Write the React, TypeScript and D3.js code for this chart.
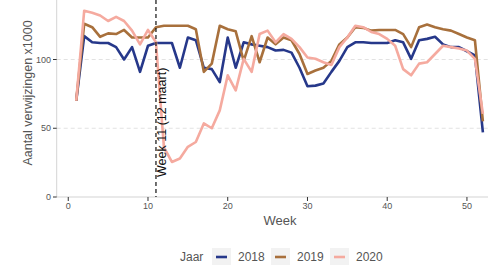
import React from 'react';
import * as d3 from 'd3';

const weeks = d3.range(1, 53);
const years = ['2018', '2019', '2020'];
const colors = ['#26388a', '#a8703c', '#f5aa9f'];

const y2018 = [70, 117, 112.5, 112, 112, 109, 100, 109, 91, 110, 112, 112, 112, 94, 116, 114, 94, 93, 83.5, 116,
  94, 112.5, 111, 110, 109, 106.5, 107, 105, 94, 80.5, 81, 82.5, 91, 99, 109, 112.5, 112.5, 112, 112, 112,
  114, 112.5, 100.5, 114, 115, 116.5, 111, 109, 109, 106, 103, 47];
const y2019 = [70, 126, 123.5, 116.5, 119, 118.5, 121.5, 116, 116, 116, 123.5, 124.5, 124.5, 124.5, 124.5, 122, 91, 97, 124.5, 122,
  120.5, 99, 117, 98, 116, 111, 116, 114, 104, 89.5, 92, 94, 99, 111, 116, 123.5, 123, 121, 121.5, 121.5,
  121.5, 118.5, 109, 123.5, 125.5, 123.5, 122, 121, 118.5, 116, 114, 55];
const y2020 = [70, 135.5, 134, 132, 128, 131, 128, 121, 111, 121.5, 112.5, 36, 25.5, 28, 36.5, 40, 53.5, 50, 63, 88.5,
  77.5, 100.5, 91, 118.5, 121, 112.5, 118.5, 115, 109, 101.5, 100.5, 98, 96, 109, 116, 124.5, 123.5, 120, 118.5, 115,
  110, 93, 88.5, 97, 98, 104, 110, 109, 108, 106.5, 100.5, 60.5];
const series = [y2018, y2019, y2020];

const xTicks = [0, 10, 20, 30, 40, 50];
const yTicks = [0, 50, 100];
const markerWeek = 11;
const markerLabel = 'Week 11 (12 maart)';

export default function App() {
  const x = d3.scaleLinear().domain([-1.6, 55.6]).range([55.5, 511.6]);
  const y = d3.scaleLinear().domain([0, 100]).range([197, 59.5]);
  const line = d3.line<number>().x((_, i) => x(weeks[i])).y((v) => y(v));
  const font = '"Liberation Sans", Arial, sans-serif';

  const legendItems = [
    { key: 212, label: 238 },
    { key: 271, label: 297 },
    { key: 330, label: 356 },
  ];

  return (
    <svg width={488} height={265} style={{ position: 'absolute', left: 0, top: 0, background: '#fff' }} fontFamily={font}>
      {/* gridlines */}
      {yTicks.filter((t) => t > 0).map((t) => (
        <line key={t} x1={56.7} x2={488} y1={y(t)} y2={y(t)} stroke="#d6d6d6" strokeWidth={0.7} strokeDasharray="4,3" />
      ))}
      {/* axis lines */}
      <line x1={56.7} x2={56.7} y1={0} y2={197} stroke="#c8c8c8" strokeWidth={0.8} />
      <line x1={56.7} x2={488} y1={197} y2={197} stroke="#c8c8c8" strokeWidth={0.8} />
      {yTicks.map((t) => (
        <g key={t}>
          <line x1={53} x2={56.7} y1={y(t)} y2={y(t)} stroke="#333" strokeWidth={1} />
          <text x={51} y={y(t)} dy="0.35em" textAnchor="end" fontSize={9} fill="#555">{t}</text>
        </g>
      ))}
      {xTicks.map((t) => (
        <g key={t}>
          <line x1={x(t)} x2={x(t)} y1={197} y2={201} stroke="#333" strokeWidth={1} />
          <text x={x(t)} y={206} dy="0.35em" textAnchor="middle" fontSize={9} fill="#555">{t}</text>
        </g>
      ))}
      {/* series */}
      {series.map((s, i) => (
        <path key={years[i]} d={line(s) ?? ''} fill="none" stroke={colors[i]} strokeWidth={2.6} strokeLinejoin="round" />
      ))}
      {/* week 11 marker */}
      <line x1={x(markerWeek)} x2={x(markerWeek)} y1={0} y2={197} stroke="#111" strokeWidth={1.2} strokeDasharray="4,3" />
      <text transform={`translate(166,177) rotate(-90)`} fontSize={12.5} fill="#111">{markerLabel}</text>
      {/* axis titles */}
      <text transform="translate(32,93) rotate(-90)" textAnchor="middle" fontSize={12.5} fill="#555">Aantal verwijzingen x1000</text>
      <text x={280} y={224.5} textAnchor="middle" fontSize={13} fill="#555">Week</text>
      {/* legend */}
      <text x={180} y={261} fontSize={12} fill="#555">Jaar</text>
      {legendItems.map((it, i) => (
        <g key={years[i]}>
          <rect x={it.key} y={248} width={19} height={18} fill="#f2f2f2" />
          <line x1={it.key + 4} x2={it.key + 15} y1={257} y2={257} stroke={colors[i]} strokeWidth={2.6} />
          <text x={it.label} y={261} fontSize={12} fill="#555">{years[i]}</text>
        </g>
      ))}
    </svg>
  );
}
